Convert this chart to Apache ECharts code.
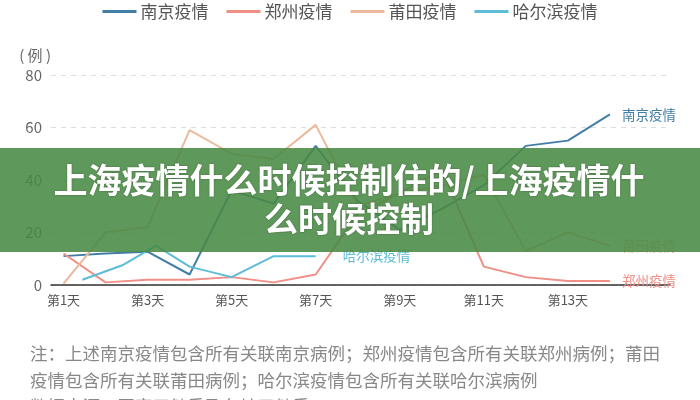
<!DOCTYPE html>
<html>
<head>
<meta charset="utf-8">
<script src="https://cdn.jsdelivr.net/npm/echarts@6/dist/echarts.min.js"></script>
<style>
html,body{margin:0;padding:0;background:#fff;}
#c{width:700px;height:400px;}
</style>
</head>
<body>
<div id="c"></div>
<script>
var seriesNames = ['南京疫情', '郑州疫情', '莆田疫情', '哈尔滨疫情'];
var days = [1, 2, 3, 4, 5, 6, 7, 8, 9, 10, 11, 12, 13, 14];
var nanjing = [11, 12, 12.7, 4, 36, 31, 53, 32, 21, 29, 38, 53, 55, 65];
var zhengzhou = [12, 1, 2, 2, 3, 1, 4, 27, 35, 44, 7, 3, 1.5, 1.5];
var putian = [0.5, 20, 22, 59, 50, 48, 61, 30, 35, 38, 42, 13, 20, 15];
var harbinDays = [1.45, 2.4, 3.2, 4, 5, 6, 7];
var harbin = [2, 7.5, 15, 7, 3, 11, 11];
var xTickDays = [1, 3, 5, 7, 9, 11, 13];
var yTicks = [0, 20, 40, 60, 80];
var colors = ['#437ea6', '#ef8f86', '#ebb99b', '#5dbcd7'];
var titleLines = ['上海疫情什么时候控制住的/上海疫情什', '么时候控制'];
var noteLines = [
  '注：上述南京疫情包含所有关联南京病例；郑州疫情包含所有关联郑州病例；莆田',
  '疫情包含所有关联莆田病例；哈尔滨疫情包含所有关联哈尔滨病例',
  '数据来源：国家卫健委及各地卫健委'
];

function pairs(xs, ys) { return xs.map(function (x, i) { return [x, ys[i]]; }); }

var chart = echarts.init(document.getElementById('c'), null, {renderer: 'canvas'});
var font = '"Noto Sans CJK SC", "Noto Sans", sans-serif';

function mkSeries(name, data, color, dist) {
  return {
    name: name, type: 'line', data: data, symbol: 'none', smooth: false,
    lineStyle: {width: 2, color: color}, itemStyle: {color: color},
    endLabel: {show: true, formatter: '{a}', color: color, fontSize: 13.5, fontFamily: font, distance: dist},
    emphasis: {disabled: true}, z: 2
  };
}

var option = {
  animation: false,
  textStyle: {fontFamily: font},
  color: colors,
  legend: {
    top: -2, left: 'center', icon: 'rect', itemWidth: 34, itemHeight: 3, itemGap: 18,
    textStyle: {fontSize: 17, color: '#555', fontFamily: font, padding: [0, 0, 0, -1]},
    data: seriesNames
  },
  grid: {left: 51, right: 30, top: 75, bottom: 115, containLabel: false},
  xAxis: {
    type: 'value', min: 0.703, max: 15.43,
    axisLine: {show: true, lineStyle: {color: '#333', width: 1.5}},
    axisTick: {show: false},
    splitLine: {show: false},
    axisLabel: {
      customValues: xTickDays, color: '#555', fontSize: 13, margin: 9, fontFamily: font,
      formatter: function (v) { return '第' + v + '天'; }
    }
  },
  yAxis: {
    type: 'value', min: 0, max: 80, interval: 20,
    name: '( 例 )', nameLocation: 'end', nameGap: 12,
    nameTextStyle: {align: 'right', color: '#666', fontSize: 15, fontFamily: font, padding: [0, 0, 0, 0]},
    axisLine: {show: false}, axisTick: {show: false},
    axisLabel: {color: '#666', fontSize: 15, margin: 9, fontFamily: font},
    splitLine: {show: true, lineStyle: {color: '#dcdcdc', type: [5, 5], width: 1}}
  },
  series: [
    mkSeries(seriesNames[0], pairs(days, nanjing), colors[0], 12),
    mkSeries(seriesNames[1], pairs(days, zhengzhou), colors[1], 12),
    mkSeries(seriesNames[2], pairs(days, putian), colors[2], 12),
    mkSeries(seriesNames[3], pairs(harbinDays, harbin), colors[3], 27)
  ],
  graphic: [
    {type: 'rect', left: 0, top: 148, z: 100, shape: {width: 700, height: 104},
     style: {fill: 'rgba(73,138,68,0.88)'}},
    {type: 'text', x: 349, y: 200, z: 101,
     style: {text: titleLines.join('\n'), fill: '#fff', font: 'bold 34px ' + font,
             textAlign: 'center', textVerticalAlign: 'middle', lineHeight: 39,
             textShadowColor: 'rgba(0,0,0,0.35)', textShadowBlur: 2}},
    {type: 'text', x: 30, y: 353, z: 50,
     style: {text: noteLines[0], fill: '#888', font: '17.5px ' + font, textVerticalAlign: 'middle'}},
    {type: 'text', x: 30, y: 380, z: 50,
     style: {text: noteLines[1], fill: '#888', font: '17.5px ' + font, textVerticalAlign: 'middle'}},
    {type: 'text', x: 30, y: 406, z: 50,
     style: {text: noteLines[2], fill: '#888', font: '17.5px ' + font, textVerticalAlign: 'middle'}}
  ]
};
chart.setOption(option);
</script>
</body>
</html>
